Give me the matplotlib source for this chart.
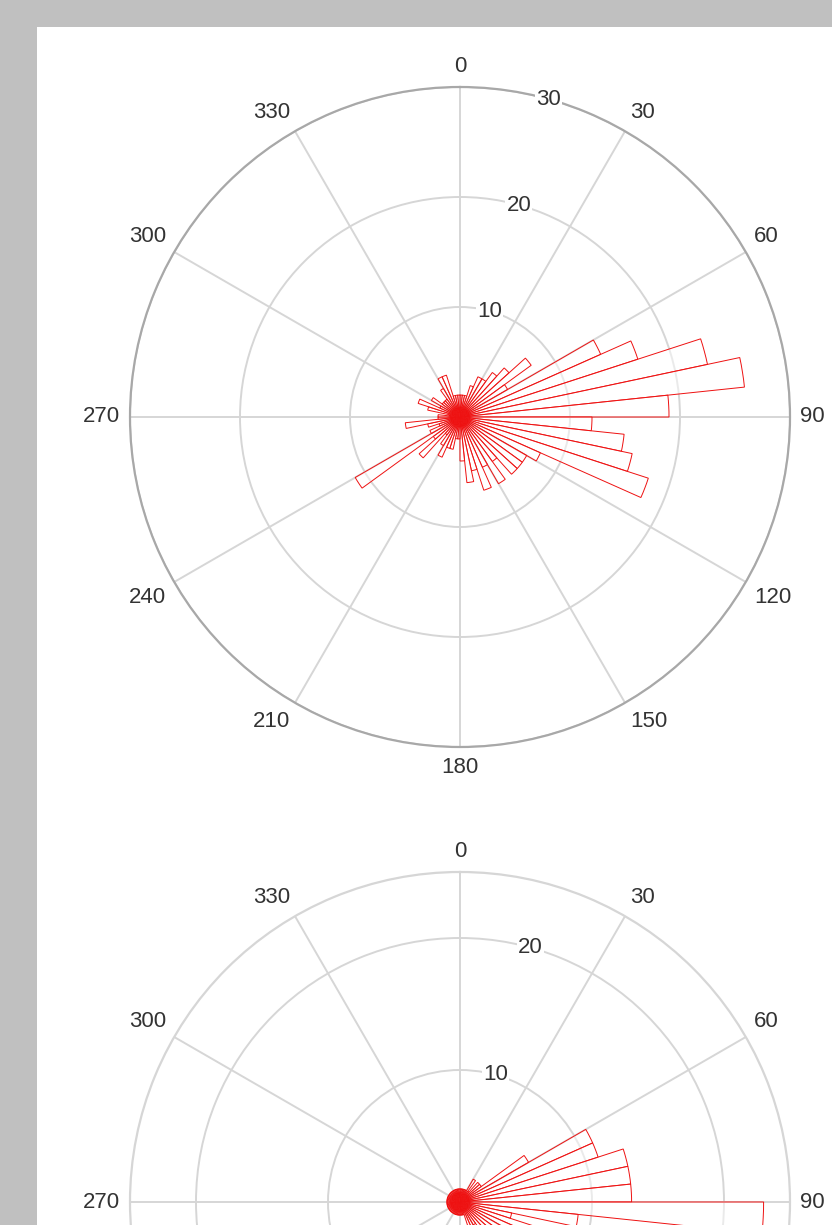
import numpy as np
import matplotlib
matplotlib.use("Agg")
import matplotlib.pyplot as plt
from matplotlib.patches import Rectangle

plt.rcParams['font.family'] = ['Liberation Sans', 'DejaVu Sans']

# 60 bins of 6 degrees, starting at 0 (north), clockwise
bin_width_deg = 6
top_counts = [2, 2, 2, 3, 4, 4, 5, 6, 8, 5,
              14, 17, 23, 26, 19, 12, 15, 16, 18, 8,
              7, 7, 7, 5, 7, 5, 7, 5, 6, 4,
              2, 2, 3, 3, 4, 3, 2, 5, 3, 11,
              3, 2, 3, 5, 2, 2, 1, 3, 4, 2,
              3, 2, 2, 2, 3, 4, 4, 2, 2, 2]
bottom_counts = [1, 1, 1, 1, 1, 2, 1, 2, 2, 6,
                 11, 11, 13, 13, 13, 23, 9, 4, 6, 8,
                 5, 4, 3, 3, 2, 2, 2, 1, 1, 1,
                 1, 1, 1, 1, 1, 1, 1, 1, 1, 1,
                 1, 1, 1, 1, 1, 1, 1, 1, 1, 1,
                 1, 1, 1, 1, 1, 1, 1, 1, 1, 1]

theta_ticks = [0, 30, 60, 90, 120, 150, 180, 210, 240, 270, 300, 330]
# the lower plot is cut by the figure edge, only its upper labels show
bottom_theta_labels = [0, 30, 60, 90, 270, 300, 330]
top_rticks = [10, 20, 30]
bottom_rticks = [10, 20]
top_rmax = 30
bottom_rmax = 25

W, H = 832, 1225
fig = plt.figure(figsize=(W / 100, H / 100), dpi=100, facecolor='#c0c0c0')
fig.add_artist(Rectangle((37 / W, 0), 1, 1 - 27 / H, transform=fig.transFigure,
                         facecolor='white', edgecolor='none', zorder=0))

grid_c = '#d6d6d6'
text_c = '#333333'


def rose(ax, counts, rmax, rticks, spine_c, labels):
    n = len(counts)
    centers = np.radians(np.arange(n) * bin_width_deg + bin_width_deg / 2)
    ax.set_theta_zero_location('N')
    ax.set_theta_direction(-1)
    ax.set_axisbelow(True)
    ax.bar(centers, counts, width=np.radians(bin_width_deg), bottom=0,
           facecolor=(1, 1, 1, 0.5), edgecolor='#ee1111', linewidth=0.7)
    ax.set_ylim(0, rmax)
    ax.set_yticks(rticks)
    ax.set_xticks(np.radians(theta_ticks))
    ax.set_xticklabels([])
    ax.set_yticklabels([])
    ax.grid(True, color=grid_c, linewidth=1.4)
    ax.spines['polar'].set_color(spine_c)
    ax.spines['polar'].set_linewidth(1.6)
    ax.tick_params(length=0)

    pad = 7
    for d in labels:
        th = np.radians(d)
        s, c = np.sin(th), np.cos(th)
        ha = 'center' if abs(s) < 0.01 else ('left' if s > 0 else 'right')
        va = 'center' if abs(c) < 0.01 else ('bottom' if c > 0 else 'top')
        ax.annotate(str(d), xy=(th, rmax), xytext=(pad * s, pad * c),
                    textcoords='offset points', ha=ha, va=va,
                    fontsize=16, color=text_c, annotation_clip=False)
    for r in rticks:
        ax.text(np.radians(15.5), r, str(r), ha='center', va='center',
                fontsize=16, color=text_c, zorder=5,
                bbox=dict(boxstyle='square,pad=0.05', fc='white', ec='none'))


ax1 = fig.add_axes([130 / W, 1 - 747 / H, 660 / W, 660 / H], projection='polar')
rose(ax1, top_counts, top_rmax, top_rticks, '#a8a8a8', theta_ticks)

ax2 = fig.add_axes([130 / W, 1 - 1532 / H, 660 / W, 660 / H], projection='polar')
rose(ax2, bottom_counts, bottom_rmax, bottom_rticks, grid_c, bottom_theta_labels)

fig.savefig('out.png', dpi=100, facecolor=fig.get_facecolor())
